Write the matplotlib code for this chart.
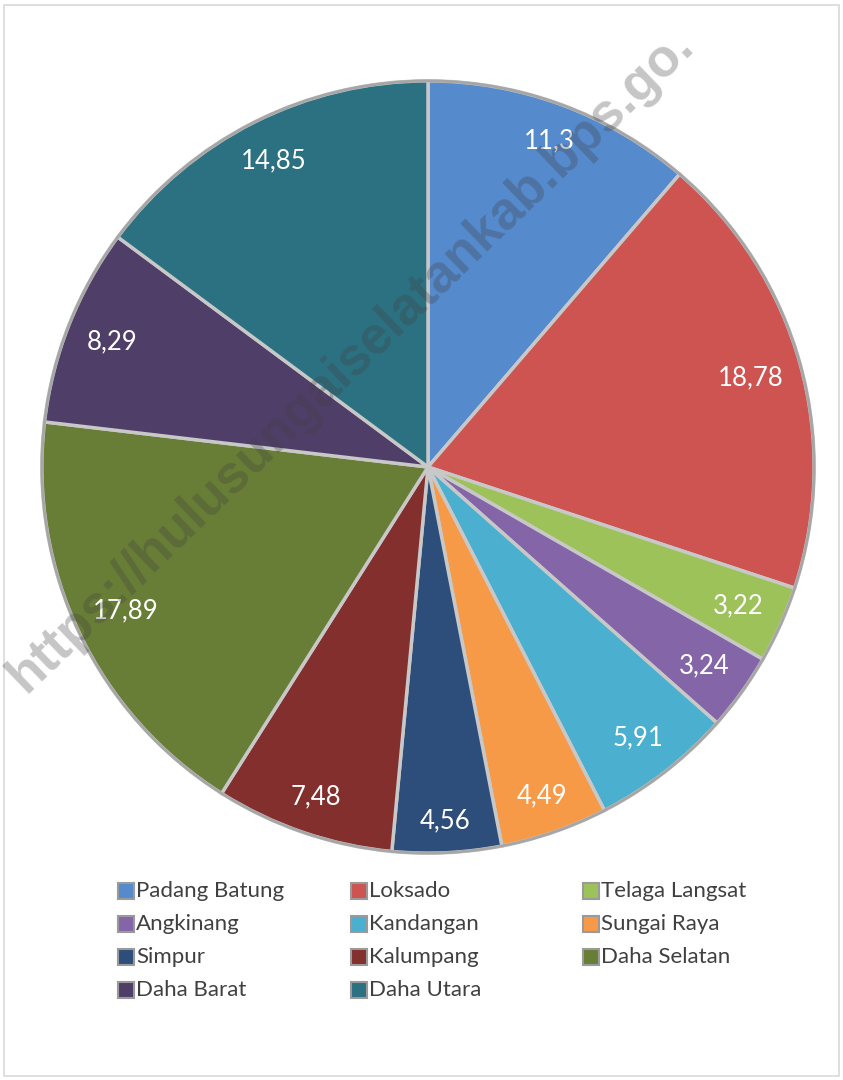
import matplotlib.pyplot as plt
from matplotlib.patches import Rectangle, Circle
import numpy as np

# Persentase per kecamatan
kecamatan = ['Padang Batung', 'Loksado', 'Telaga Langsat', 'Angkinang', 'Kandangan',
             'Sungai Raya', 'Simpur', 'Kalumpang', 'Daha Selatan', 'Daha Barat', 'Daha Utara']
nilai = [11.3, 18.78, 3.22, 3.24, 5.91, 4.49, 4.56, 7.48, 17.89, 8.29, 14.85]
warna = ['#558acd', '#cd5451', '#9dc25a', '#8466a8', '#4bb0cf', '#f79a47',
         '#2d4e7a', '#822f2d', '#687e36', '#4f3e68', '#2c7182']

W, H = 843, 1080
fig = plt.figure(figsize=(W / 100, H / 100), dpi=100)
plt.rcParams['font.family'] = ['Lato', 'DejaVu Sans']

# chart border
fig.patches.append(Rectangle((4 / W, 4 / H), 835 / W, 1071 / H, transform=fig.transFigure,
                             fill=False, edgecolor='#d9d9d9', linewidth=1.2))

cx, cy, r = 428, 467, 390
ax = fig.add_axes([(cx - r) / W, (H - cy - r) / H, 2 * r / W, 2 * r / H])
wedges, _ = ax.pie(nilai, colors=warna, startangle=90, counterclock=False,
                   wedgeprops=dict(edgecolor='#c8c8c8', linewidth=2.5))
# darker rim around the pie
ax.add_patch(Circle((0, 0), 1.0, fill=False, edgecolor='#a6a6a6', linewidth=2))
ax.set_xlim(-1.01, 1.01)
ax.set_ylim(-1.01, 1.01)
ax.axis('off')

# data labels, "inside end" like Excel (comma decimal)
total = sum(nilai)
acc = 0
for v in nilai:
    mid = np.deg2rad(90 - (acc + v / 2) / total * 360)
    acc += v
    txt = f'{v:g}'.replace('.', ',')
    hw = 6.2 * len(txt) / r       # half width of label in axes units
    hh = 12 / r
    d = 1 - 19 / r - (abs(np.cos(mid)) * hw + abs(np.sin(mid)) * hh)
    ax.text(d * np.cos(mid), d * np.sin(mid), txt, ha='center', va='center',
            color='white', fontsize=18.5)

# legend laid out row by row like the original
col_x = [126, 359, 591]
row_y = [891, 924, 957, 990]
for i, (name, c) in enumerate(zip(kecamatan, warna)):
    x = col_x[i % 3]
    y = row_y[i // 3]
    fig.patches.append(Rectangle(((x - 8) / W, (H - y - 8) / H), 16 / W, 16 / H,
                                 transform=fig.transFigure, facecolor=c,
                                 edgecolor='#9a9a9a', linewidth=1.5))
    fig.text((x + 10) / W, (H - y) / H, name, ha='left', va='center',
             fontsize=16, color='#404040')

# watermark (the part that fits on the page)
fig.text(26 / W, (H - 694) / H, 'https://hulusungaiselatankab.bps.go.',
         rotation=44.0, rotation_mode='anchor', ha='left', va='baseline',
         fontsize=38, fontweight='bold', color='#404040', alpha=0.3,
         family='Liberation Sans', zorder=10)

fig.savefig('out.png', dpi=100)
